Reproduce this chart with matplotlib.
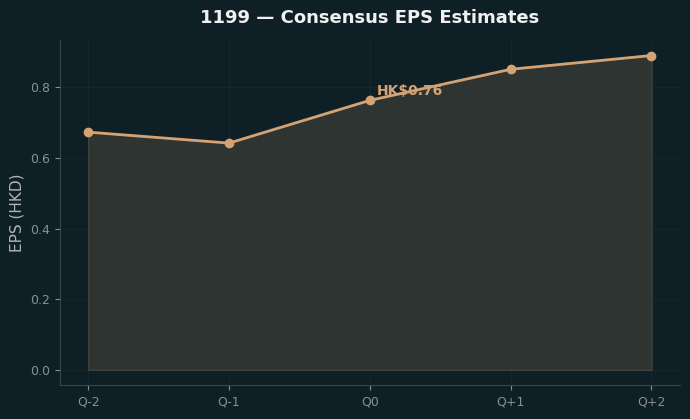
import matplotlib
matplotlib.use("Agg")
import matplotlib.pyplot as plt

quarters = ["Q-2", "Q-1", "Q0", "Q+1", "Q+2"]
eps = [0.673, 0.642, 0.763, 0.851, 0.890]
current_label = "HK$0.76"

bg = "#0f1f26"
line_col = "#d4a373"

fig, ax = plt.subplots(figsize=(6.9, 4.19), dpi=100)
fig.patch.set_facecolor(bg)
ax.set_facecolor(bg)

x = list(range(len(quarters)))
ax.fill_between(x, eps, 0, color="#2e3432", alpha=1.0, edgecolor="#40423a", linewidth=1)
ax.plot(x, eps, color=line_col, linewidth=2, marker="o", markersize=6)
ax.annotate(current_label, (x[2], eps[2]), xytext=(5, 4), textcoords="offset points",
            color=line_col, fontsize=10, fontweight="bold")

ax.set_xticks(x)
ax.set_xticklabels(quarters)
ax.set_title("1199 — Consensus EPS Estimates", color="#f0f0f0", fontsize=13,
             fontweight="bold", pad=12)
ax.set_ylabel("EPS (HKD)", color="#b0b4b6", fontsize=11)
ax.tick_params(colors="#8a8f92", labelsize=9)
for s in ["top", "right"]:
    ax.spines[s].set_visible(False)
for s in ["left", "bottom"]:
    ax.spines[s].set_color("#3c4448")
ax.grid(True, color="#16262c", linewidth=0.8)
ax.set_axisbelow(True)

plt.subplots_adjust(left=0.087, right=0.985, top=0.905, bottom=0.08)
plt.savefig("out.png", facecolor=bg)
